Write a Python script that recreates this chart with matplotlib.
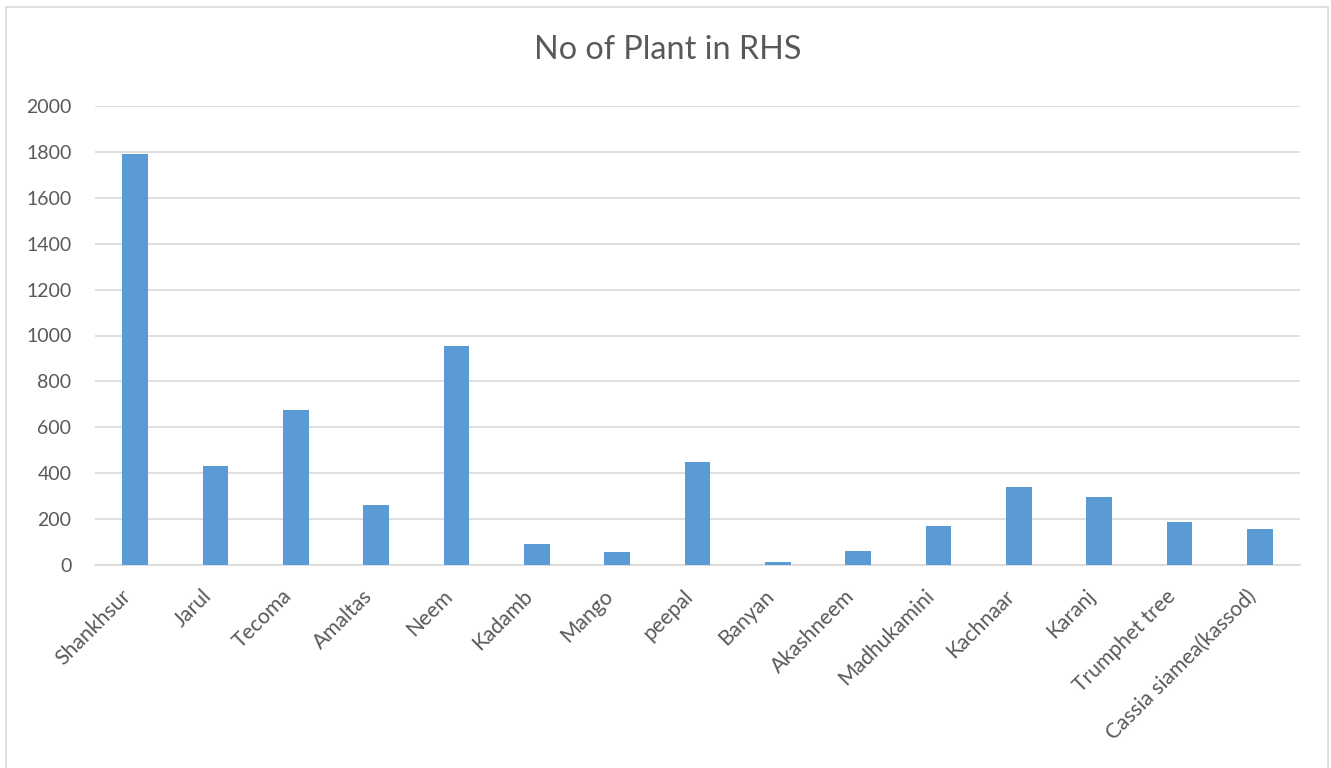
import matplotlib
matplotlib.use("Agg")
import matplotlib.pyplot as plt
from matplotlib.patches import Rectangle

categories = ["Shankhsur", "Jarul", "Tecoma", "Amaltas", "Neem", "Kadamb", "Mango",
              "peepal", "Banyan", "Akashneem", "Madhukamini", "Kachnaar", "Karanj",
              "Trumphet tree", "Cassia siamea(kassod)"]
values = [1790, 430, 675, 260, 955, 90, 55, 450, 15, 60, 170, 340, 295, 188, 155]
yticks = [0, 200, 400, 600, 800, 1000, 1200, 1400, 1600, 1800, 2000]
title = "No of Plant in RHS"

plt.rcParams['font.family'] = ['Lato', 'DejaVu Sans']

fig = plt.figure(figsize=(13.31, 7.68), dpi=100)
ax = fig.add_axes([95/1331, 1-565/768, 1205/1331, 459/768])

x = list(range(len(categories)))
ax.bar(x, values, width=0.32, color="#5b9bd5", zorder=3)

ax.set_xlim(-0.5, len(categories) - 0.5)
ax.set_ylim(0, 2000)
ax.set_yticks(yticks)
ax.set_yticklabels([str(v) for v in yticks], fontsize=14, color="#595959")
ax.set_xticks(x)
ax.set_xticklabels(categories, rotation=45, ha="right", fontsize=15.2, color="#595959")
ax.tick_params(axis="both", length=0)
ax.tick_params(axis="y", pad=17)
ax.tick_params(axis="x", pad=15)
ax.grid(axis="y", color="#d9d9d9", linewidth=1.2, zorder=0)
for s in ["top", "right", "left"]:
    ax.spines[s].set_visible(False)
ax.spines["bottom"].set_color("#d9d9d9")
ax.spines["bottom"].set_linewidth(1.2)

fig.text(668/1331, 1-50/768, title, ha="center", va="center", fontsize=23.3,
         color="#595959", fontweight="normal")

fig.patches.append(Rectangle((6/1331, -0.01), 1322/1331, 1-7/768+0.01,
                             transform=fig.transFigure, fill=False,
                             edgecolor="#d9d9d9", linewidth=1.2))

fig.savefig("out.png", dpi=100)
